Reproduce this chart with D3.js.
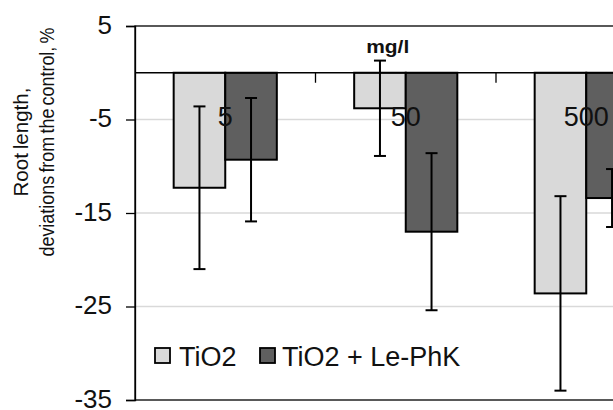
<!DOCTYPE html>
<html>
<head>
<meta charset="utf-8">
<script src="https://cdn.jsdelivr.net/npm/d3@7"></script>
<style>
  html, body { margin: 0; padding: 0; background: #fff; }
  svg { display: block; font-family: "Liberation Sans", Arial, sans-serif; }
</style>
</head>
<body>
<svg id="chart" width="613" height="410"></svg>
<script>
// Concentrations of TiO2 (mg/l)
const categories = ["5", "50", "500"];
const seriesNames = ["TiO2", "TiO2 + Le-PhK"];
// Root length, deviation from the control (%)
const tio2Values = [-12.3, -3.8, -23.6];
const tio2Errors = [8.7, 5.1, 10.4];
const lephkValues = [-9.3, -17.0, -13.4];
const lephkErrors = [6.6, 8.4, 3.1];
const yTicks = [5, -5, -15, -25, -35];
const gridTicks = [-5, -15, -25];

const colors = ["#d9d9d9", "#5f5f5f"];

const svg = d3.select("#chart");
const plotLeft = 135, plotTop = 26, plotBottom = 400, bandW = 180.5;

const y = d3.scaleLinear().domain([-35, 5]).range([plotBottom, plotTop]);
const x = d3.scaleBand().domain(categories)
  .range([plotLeft, plotLeft + bandW * categories.length]).padding(0);
// two bars per group, gap width 150% of a bar
const barW = x.bandwidth() / 3.5;
const xs = d3.scaleBand().domain(seriesNames)
  .range([x.bandwidth() / 2 - barW, x.bandwidth() / 2 + barW]).padding(0);

const rows = categories.map((c, i) => ({
  cat: c,
  bars: [
    { s: seriesNames[0], v: tio2Values[i], e: tio2Errors[i] },
    { s: seriesNames[1], v: lephkValues[i], e: lephkErrors[i] }
  ]
}));

// gridlines
svg.append("g").selectAll("line").data(gridTicks).join("line")
  .attr("x1", plotLeft).attr("x2", 700)
  .attr("y1", d => y(d)).attr("y2", d => y(d))
  .attr("stroke", "#d9d9d9").attr("stroke-width", 1.5);

// plot area border (top and bottom edges)
svg.append("rect")
  .attr("x", plotLeft).attr("y", plotTop)
  .attr("width", 700).attr("height", plotBottom - plotTop)
  .attr("fill", "none").attr("stroke", "#000").attr("stroke-width", 1.3);

// bars
const groups = svg.append("g").selectAll("g").data(rows).join("g")
  .attr("transform", d => `translate(${x(d.cat)},0)`);

groups.selectAll("rect").data(d => d.bars).join("rect")
  .attr("x", d => xs(d.s))
  .attr("y", y(0))
  .attr("width", xs.bandwidth())
  .attr("height", d => y(d.v) - y(0))
  .attr("fill", (d, i) => colors[i])
  .attr("stroke", "#000").attr("stroke-width", 2);

// zero line / category axis
svg.append("line")
  .attr("x1", plotLeft).attr("x2", 700)
  .attr("y1", y(0)).attr("y2", y(0))
  .attr("stroke", "#000").attr("stroke-width", 1.3);

// category tick marks at band boundaries
svg.append("g").selectAll("line").data(categories.slice(1)).join("line")
  .attr("x1", d => x(d)).attr("x2", d => x(d))
  .attr("y1", y(0)).attr("y2", y(0) + 10)
  .attr("stroke", "#000").attr("stroke-width", 1.3);

// error bars
const capW = 6;
const eb = groups.selectAll("g.err").data(d => d.bars).join("g")
  .attr("class", "err")
  .attr("stroke", "#000").attr("stroke-width", 2);
eb.append("line")
  .attr("x1", d => xs(d.s) + xs.bandwidth() / 2)
  .attr("x2", d => xs(d.s) + xs.bandwidth() / 2)
  .attr("y1", d => y(d.v + d.e)).attr("y2", d => y(d.v - d.e));
eb.append("line")
  .attr("x1", d => xs(d.s) + xs.bandwidth() / 2 - capW)
  .attr("x2", d => xs(d.s) + xs.bandwidth() / 2 + capW)
  .attr("y1", d => y(d.v + d.e)).attr("y2", d => y(d.v + d.e));
eb.append("line")
  .attr("x1", d => xs(d.s) + xs.bandwidth() / 2 - capW)
  .attr("x2", d => xs(d.s) + xs.bandwidth() / 2 + capW)
  .attr("y1", d => y(d.v - d.e)).attr("y2", d => y(d.v - d.e));

// category labels
svg.append("g").selectAll("text").data(categories).join("text")
  .attr("x", d => x(d) + x.bandwidth() / 2)
  .attr("y", y(0) + 53)
  .attr("text-anchor", "middle")
  .attr("font-size", 27).attr("fill", "#111")
  .text(d => d);

// unit label
svg.append("text")
  .attr("x", x("50") + x.bandwidth() / 2 - 18)
  .attr("y", 53)
  .attr("text-anchor", "middle")
  .attr("font-size", 18).attr("font-weight", "bold").attr("fill", "#111")
  .attr("textLength", 43).attr("lengthAdjust", "spacingAndGlyphs")
  .text("mg/l");

// value axis
const yAxis = svg.append("g")
  .attr("transform", `translate(${plotLeft},0)`)
  .call(d3.axisLeft(y).tickValues(yTicks).tickSize(9).tickPadding(14).tickFormat(d3.format("d")));
yAxis.select(".domain").attr("stroke", "#000").attr("stroke-width", 1.3);
yAxis.selectAll(".tick line").attr("stroke", "#000").attr("stroke-width", 1.3);
yAxis.selectAll(".tick text")
  .attr("font-size", 26).attr("fill", "#111")
  .attr("font-family", "'Liberation Sans', Arial, sans-serif")
  .attr("dy", "0.28em")
  .text(d => d < 0 ? "-" + Math.abs(d) : d);

// axis title (two rotated lines, slightly condensed)
const title = svg.append("text")
  .attr("transform", "translate(0,142) rotate(-90)")
  .attr("text-anchor", "middle")
  .attr("fill", "#111")
  .attr("font-size", 21).attr("word-spacing", -2);
title.append("tspan").attr("x", 0).attr("y", 28)
  .attr("textLength", 109).attr("lengthAdjust", "spacingAndGlyphs")
  .text("Root length,");
title.append("tspan").attr("x", 0).attr("y", 54)
  .attr("textLength", 229).attr("lengthAdjust", "spacingAndGlyphs")
  .text("deviations from the control, %");

// legend
const legend = svg.append("g");
const legendItems = [
  { name: seriesNames[0], sx: 155, tx: 179 },
  { name: seriesNames[1], sx: 260, tx: 282 }
];
legendItems.forEach((it, i) => {
  legend.append("rect")
    .attr("x", it.sx).attr("y", 348).attr("width", 15).attr("height", 15)
    .attr("fill", colors[i]).attr("stroke", "#000").attr("stroke-width", 1.8);
  legend.append("text")
    .attr("x", it.tx).attr("y", 366)
    .attr("font-size", 27).attr("fill", "#111")
    .text(it.name);
});
</script>
</body>
</html>
